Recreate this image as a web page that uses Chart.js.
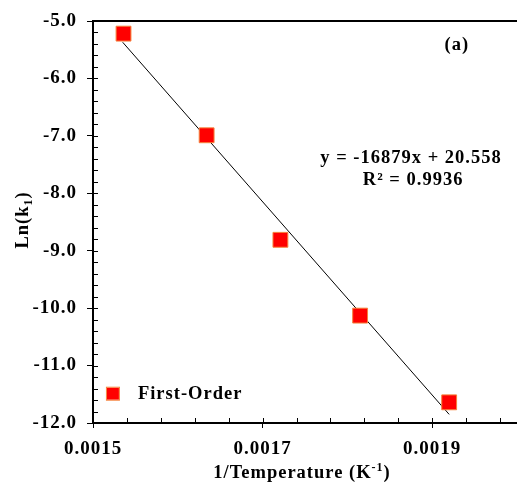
<!DOCTYPE html>
<html>
<head>
<meta charset="utf-8">
<script src="https://cdn.jsdelivr.net/npm/chart.js@4.4.1/dist/chart.umd.min.js"></script>
<style>
  html, body { margin: 0; padding: 0; background: #fff; }
  #wrap { width: 517px; height: 485px; position: relative; }
</style>
</head>
<body>
<div id="wrap"><canvas id="arrhenius"></canvas></div>
<script>
// 데이터
const invTemp = [0.001536, 0.001634, 0.001721, 0.001815, 0.001920];
const lnK1 = [-5.22, -6.99, -8.81, -10.13, -11.64];
const fitX = [0.001535, 0.001920];
const fitY = [-5.37, -11.85];
const xTicks = [0.0015, 0.0017, 0.0019];
const yTicks = [-5, -6, -7, -8, -9, -10, -11, -12];
const seriesName = 'First-Order';
const eqText = 'y = -16879x + 20.558';
const r2Text = 'R² = 0.9936';
const panelLabel = '(a)';

const SERIF = '"Liberation Serif", "Times New Roman", serif';

// 원본 글자가 가로로 약간 넓어서 자간을 준다
const spacing = {
  id: 'spacing',
  beforeDraw(chart) { chart.ctx.letterSpacing = '1px'; },
};

// 축선, 보조 눈금, 제목, 범례, 수식 그리기
const decor = {
  id: 'decor',
  afterDraw(chart) {
    const { ctx, chartArea: a, scales: { x, y } } = chart;
    ctx.save();
    ctx.letterSpacing = '1px';
    ctx.strokeStyle = '#000';

    // 보조 눈금 (안쪽)
    ctx.lineWidth = 1;
    for (let v = 0.0015; v <= 0.00200001; v += 0.00004) {
      const px = Math.round(x.getPixelForValue(v)) + 0.5;
      ctx.beginPath(); ctx.moveTo(px, a.bottom); ctx.lineTo(px, a.bottom - 5); ctx.stroke();
    }
    for (let v = -12; v <= -5.0001; v += 0.2) {
      const py = Math.round(y.getPixelForValue(v)) + 0.5;
      ctx.beginPath(); ctx.moveTo(a.left, py); ctx.lineTo(a.left + 5, py); ctx.stroke();
    }

    // 축선
    ctx.lineWidth = 2;
    ctx.beginPath();
    ctx.moveTo(a.right, a.top); ctx.lineTo(a.left, a.top);
    ctx.lineTo(a.left, a.bottom); ctx.lineTo(a.right, a.bottom);
    ctx.stroke();

    ctx.fillStyle = '#000';
    // x축 제목 (위첨자)
    const xt1 = '1/Temperature (K', xsup = '-1', xt2 = ')';
    ctx.font = 'bold 18.5px ' + SERIF;
    const w1 = ctx.measureText(xt1).width, w3 = ctx.measureText(xt2).width;
    ctx.font = 'bold 12px ' + SERIF;
    const w2 = ctx.measureText(xsup).width;
    let sx = 302 - (w1 + w2 + w3) / 2;
    const by = 478;
    ctx.textBaseline = 'alphabetic';
    ctx.textAlign = 'left';
    ctx.font = 'bold 18.5px ' + SERIF;
    ctx.fillText(xt1, sx, by);
    ctx.font = 'bold 12px ' + SERIF;
    ctx.fillText(xsup, sx + w1, by - 7);
    ctx.font = 'bold 18.5px ' + SERIF;
    ctx.fillText(xt2, sx + w1 + w2, by);

    // y축 제목 (아래첨자)
    ctx.save();
    ctx.translate(28, 220);
    ctx.rotate(-Math.PI / 2);
    const yt1 = 'Ln(k', ysub = '1', yt2 = ')';
    ctx.font = 'bold 18.5px ' + SERIF;
    const v1 = ctx.measureText(yt1).width, v3 = ctx.measureText(yt2).width;
    ctx.font = 'bold 12px ' + SERIF;
    const v2 = ctx.measureText(ysub).width;
    let sy = -(v1 + v2 + v3) / 2;
    ctx.font = 'bold 18.5px ' + SERIF;
    ctx.fillText(yt1, sy, 0);
    ctx.font = 'bold 12px ' + SERIF;
    ctx.fillText(ysub, sy + v1, 4);
    ctx.font = 'bold 18.5px ' + SERIF;
    ctx.fillText(yt2, sy + v1 + v2, 0);
    ctx.restore();

    // 수식, R², 패널 라벨
    ctx.textAlign = 'center';
    ctx.font = 'bold 18.5px ' + SERIF;
    ctx.fillText(eqText, x.getPixelForValue(0.0018750), y.getPixelForValue(-7.48));
    ctx.fillText(r2Text, x.getPixelForValue(0.0018775), y.getPixelForValue(-7.86));
    ctx.fillText(panelLabel, x.getPixelForValue(0.0019290), y.getPixelForValue(-5.50));

    // 범례
    const lx = x.getPixelForValue(0.0015235), ly = y.getPixelForValue(-11.49);
    ctx.fillStyle = '#ff0000';
    ctx.fillRect(lx - 6, ly - 6, 12, 12);
    ctx.strokeStyle = '#f5823c';
    ctx.lineWidth = 1;
    ctx.strokeRect(lx - 6.5, ly - 6.5, 13, 13);
    ctx.fillStyle = '#000';
    ctx.textAlign = 'left';
    ctx.textBaseline = 'middle';
    ctx.fillText(seriesName, lx + 25, ly + 1);

    ctx.restore();
  },
};

const noPad = (s) => { s.paddingLeft = 0; s.paddingRight = 0; s.paddingTop = 0; s.paddingBottom = 0; };

new Chart(document.getElementById('arrhenius'), {
  type: 'scatter',
  data: {
    datasets: [
      {
        label: 'fit',
        data: fitX.map((v, i) => ({ x: v, y: fitY[i] })),
        showLine: true,
        borderColor: '#000',
        borderWidth: 1,
        pointRadius: 0,
        order: 2,
      },
      {
        label: seriesName,
        data: invTemp.map((v, i) => ({ x: v, y: lnK1[i] })),
        pointStyle: 'rect',
        pointRadius: 10.5,
        backgroundColor: '#ff0000',
        borderColor: '#f5823c',
        borderWidth: 1,
        order: 1,
      },
    ],
  },
  options: {
    responsive: true,
    maintainAspectRatio: false,
    animation: false,
    layout: { autoPadding: false, padding: { top: 21, right: 0, left: 0, bottom: 0 } },
    plugins: { legend: { display: false }, tooltip: { enabled: false } },
    scales: {
      x: {
        type: 'linear',
        min: 0.0015,
        max: 0.0020,
        afterBuildTicks: (s) => { s.ticks = xTicks.map((v) => ({ value: v })); },
        afterFit: (s) => { s.height = 62; noPad(s); },
        border: { display: false },
        grid: { drawOnChartArea: false, tickLength: 5, color: '#000', lineWidth: 1 },
        ticks: {
          color: '#000',
          padding: 10,
          maxRotation: 0,
          font: { family: SERIF, size: 19, weight: 'bold' },
          callback: (v) => v.toFixed(4),
        },
      },
      y: {
        type: 'linear',
        min: -12,
        max: -5,
        afterBuildTicks: (s) => { s.ticks = yTicks.map((v) => ({ value: v })); },
        afterFit: (s) => { s.width = 93; noPad(s); },
        border: { display: false },
        grid: { drawOnChartArea: false, tickLength: 6, color: '#000', lineWidth: 1 },
        ticks: {
          color: '#000',
          padding: 10,
          font: { family: SERIF, size: 19, weight: 'bold' },
          callback: (v) => v.toFixed(1),
        },
      },
    },
  },
  plugins: [spacing, decor],
});
</script>
</body>
</html>
